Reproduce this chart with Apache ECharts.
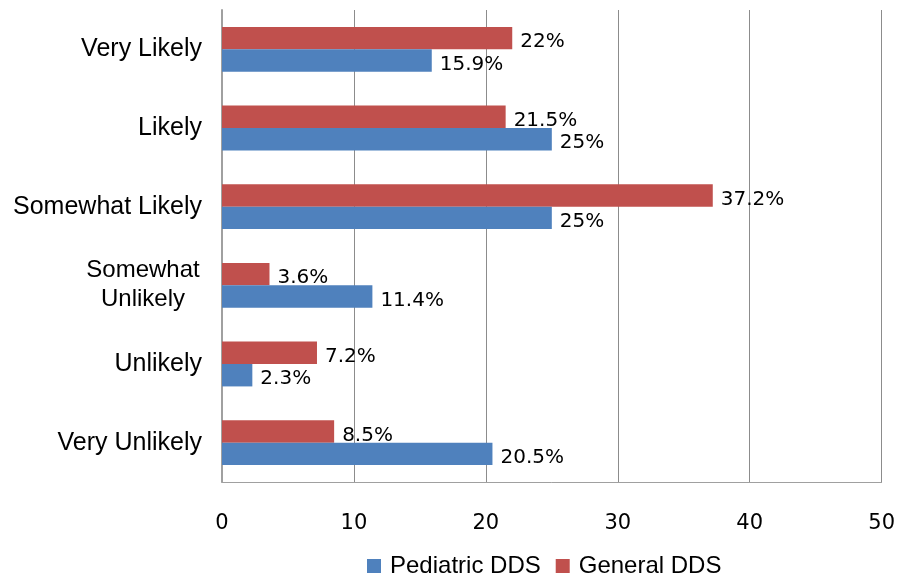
<!DOCTYPE html>
<html>
<head>
<meta charset="utf-8">
<script src="https://cdn.jsdelivr.net/npm/echarts@6/dist/echarts.min.js"></script>
<style>html,body{margin:0;padding:0;background:#fff}#c{width:898px;height:575px}</style>
</head>
<body>
<div id="c"></div>
<script>
// categories listed bottom to top
const categories = ['Very Unlikely', 'Unlikely', 'Somewhat\nUnlikely', 'Somewhat Likely', 'Likely', 'Very Likely'];
const pediatricDDS = [20.5, 2.3, 11.4, 25, 25, 15.9];
const generalDDS = [8.5, 7.2, 3.6, 37.2, 21.5, 22];
const xTicks = [0, 10, 20, 30, 40, 50];

const chart = echarts.init(document.getElementById('c'), null, {renderer: 'canvas'});
const labelStyle = {
  show: true, position: 'right', distance: 6, offset: [2, 4],
  formatter: p => p.value + '%',
  fontFamily: 'DejaVu Sans', fontSize: 20, color: '#000'
};
chart.setOption({
  animation: false,
  backgroundColor: '#fff',
  grid: {left: 222, right: 16, top: 10, bottom: 93, containLabel: false},
  legend: {
    top: 554, left: 367, icon: 'rect', itemWidth: 14, itemHeight: 14, itemGap: 15,
    padding: 0,
    textStyle: {fontFamily: 'Liberation Sans', fontSize: 24, lineHeight: 24, color: '#000', padding: [0, 0, 0, 4]},
    data: ['Pediatric DDS', 'General DDS']
  },
  xAxis: {
    type: 'value', min: xTicks[0], max: xTicks[xTicks.length - 1], interval: 10,
    axisLine: {show: true, lineStyle: {color: '#a0a0a0', width: 1}},
    axisTick: {show: false},
    splitLine: {show: true, lineStyle: {color: '#8c8c8c', width: 1}},
    axisLabel: {margin: 31, fontFamily: 'DejaVu Sans', fontSize: 21, color: '#000'}
  },
  yAxis: {
    type: 'category', data: categories,
    axisLine: {show: true, lineStyle: {color: '#a0a0a0', width: 2}},
    axisTick: {show: false},
    splitLine: {show: false},
    axisLabel: {
      margin: 20, fontFamily: 'Liberation Sans', fontSize: 25, color: '#000', lineHeight: 29,
      formatter: v => v.indexOf('\n') >= 0 ? v.split('\n').map(l => '{c|' + l + '}').join('\n') : v,
      rich: {c: {width: 118, align: 'center', fontFamily: 'Liberation Sans', fontSize: 24, color: '#000', lineHeight: 29}}
    }
  },
  series: [
    {name: 'General DDS', type: 'bar', data: generalDDS, itemStyle: {color: '#C0504D'},
     barGap: '0%', barCategoryGap: '43%', label: labelStyle},
    {name: 'Pediatric DDS', type: 'bar', data: pediatricDDS, itemStyle: {color: '#4F81BD'},
     barGap: '0%', barCategoryGap: '43%', label: labelStyle}
  ]
});
</script>
</body>
</html>
